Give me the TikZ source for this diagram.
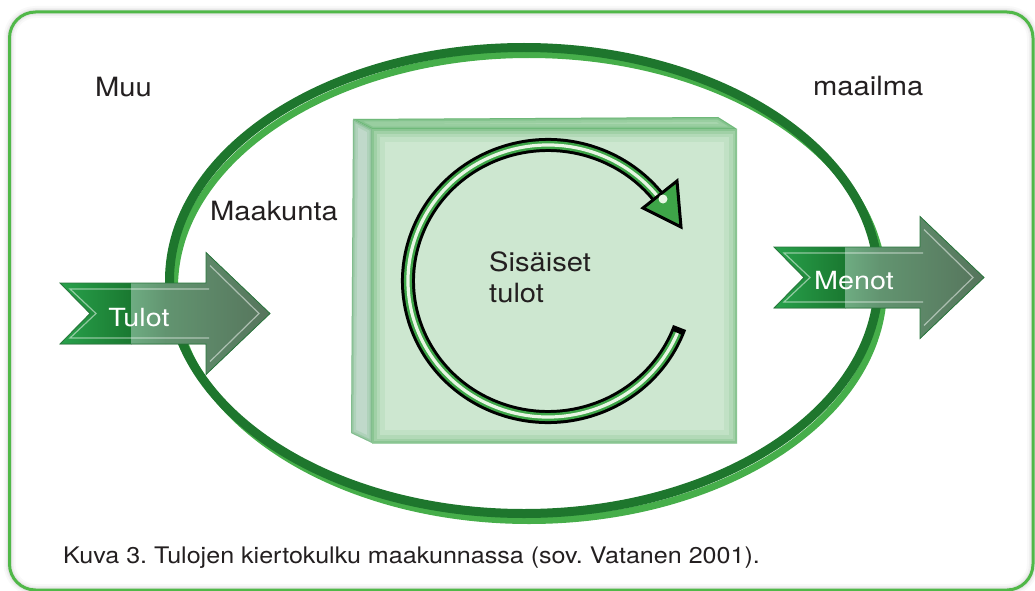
\documentclass[tikz,border=0pt]{standalone}
\usepackage{fontspec}
\setmainfont{TeX Gyre Heros}[FakeStretch=1.1]
\newfontfamily\arrowfont{TeX Gyre Heros}[FakeStretch=1.15]
\usetikzlibrary{calc}

\definecolor{framegreen}{RGB}{80,184,72}
\definecolor{ringdark}{RGB}{30,118,45}
\definecolor{ringlight}{RGB}{70,174,74}
\definecolor{facegreen}{RGB}{205,231,208}
\definecolor{topgreen}{RGB}{170,215,175}
\definecolor{sidegreen}{RGB}{192,217,202}
\definecolor{edgegreen}{RGB}{60,160,75}
\definecolor{textgray}{RGB}{35,31,32}
\definecolor{cyclegreen}{RGB}{62,165,72}
\definecolor{cyclelight}{RGB}{232,246,228}
\definecolor{glossA}{RGB}{40,162,76}
\definecolor{glossB}{RGB}{26,120,48}
\definecolor{glossC}{RGB}{110,172,130}
\definecolor{glossD}{RGB}{98,148,112}
\definecolor{glossE}{RGB}{86,116,92}
\definecolor{arrowedge}{RGB}{40,120,60}

\tikzset{
  lbl/.style={inner sep=0pt, text=textgray, anchor=base west,
              font=\fontsize{26.5}{30}\selectfont},
  capt/.style={inner sep=0pt, text=textgray, anchor=base west,
               font=\frenchspacing\fontsize{22.8}{26}\selectfont},
  arrowlbl/.style={inner sep=0pt, text=white,
                   font=\arrowfont\fontsize{25}{30}\selectfont},
  flowedge/.style={draw=arrowedge, line width=0.8pt},
  flowline/.style={draw=white, opacity=0.5, line width=1.2pt},
  glow/.style={draw=edgegreen, line width=#1},
}

% outline of a notched flow arrow, tail on its centre line at the origin
\newcommand\flowshape{(0,-30.5) -- (146,-30.5) -- (146,-61) -- (210,0)
  -- (146,61) -- (146,30.5) -- (0,30.5) -- (30,0) -- cycle}

% glossy notched flow arrow placed at (#1,#2)
\newcommand\flowarrow[2]{%
  \begin{scope}[shift={(#1,#2)}]
    \begin{scope}
      \clip \flowshape;
      \fill[left color=glossA, right color=glossB] (-1,-62) rectangle (71.5,62);
      \fill[left color=glossC, right color=glossD] (71,-62) rectangle (106,62);
      \fill[left color=glossD, right color=glossE] (105.5,-62) rectangle (211,62);
    \end{scope}
    \draw[flowedge] \flowshape;
    \draw[flowline] (149,-24.5) -- (10,-24.5) -- (36,0) -- (10,24.5) -- (149,24.5);
    \draw[flowline] (150,-48) -- (199,0) -- (150,48);
  \end{scope}}

\begin{document}
\begin{tikzpicture}[x=1pt,y=-1pt]
\useasboundingbox (0,0) rectangle (1035,591);

% outer frame with a soft shadow
\foreach \w/\o in {12/0.025,8/0.035,5/0.05}
  \draw[black, opacity=\o, line width=\w pt, rounded corners=26pt]
    (9.5,12) rectangle (1033,590);
\draw[framegreen, line width=3pt, rounded corners=26pt] (9.5,12) rectangle (1033,590);

% region ring
\draw[ringlight, line width=7pt] (529,287.5) ellipse [x radius=354.5, y radius=233];
\draw[ringdark, line width=9pt] (524,280.5) ellipse [x radius=354.5, y radius=233];

% the block: left side, top and front faces
\path[fill=sidegreen] (353,119) -- (372,129) -- (372,443) -- (351,433) -- cycle;
\begin{scope}
  \clip (353,119) -- (372,129) -- (372,443) -- (351,433) -- cycle;
  \foreach \w/\o in {10/0.12,5/0.18,2/0.25}
    \draw[glow=\w pt, opacity=\o] (353,119) -- (372,129) -- (372,443) -- (351,433) -- cycle;
\end{scope}
\path[fill=topgreen] (353,119) -- (718,117) -- (737,129) -- (372,129) -- cycle;
\begin{scope}
  \clip (353,119) -- (718,117) -- (737,129) -- (372,129) -- cycle;
  \foreach \w/\o in {10/0.15,5/0.2,2/0.3}
    \draw[glow=\w pt, opacity=\o] (353,119) -- (718,117) -- (737,129) -- (372,129) -- cycle;
\end{scope}
\path[fill=facegreen] (372,129) rectangle (737,443);
\begin{scope}
  \clip (372,129) rectangle (737,443);
  \foreach \w/\o in {26/0.08,16/0.11,9/0.15,4/0.22}
    \draw[glow=\w pt, opacity=\o] (372,129) rectangle (737,443);
\end{scope}

% circular arrow inside the block
\coordinate (cyc) at (548,281);
\draw[black, line width=14pt]
  ([shift={(20:140 and 136)}]cyc) arc[start angle=20, end angle=322, x radius=140, y radius=136];
\draw[cyclegreen, line width=8pt]
  ([shift={(22.5:140 and 136)}]cyc) arc[start angle=22.5, end angle=323.7, x radius=140, y radius=136];
\draw[cyclelight, line width=3.2pt]
  ([shift={(22.5:140 and 136)}]cyc) arc[start angle=22.5, end angle=323.7, x radius=140, y radius=136];
\draw[black, fill=cyclegreen, line width=3pt, line join=miter]
  (643,208) -- (677,181) -- (681,227) -- cycle;
\fill[cyclelight] (663,199) circle (4.5);

% texts
\node[lbl] (muu) at (95,97) {Muu};
\node[lbl] (maailma) at (813,96) {maailma};
\node[lbl] (maakunta) at (210,220) {Maakunta};
\node[lbl] (sis1) at (489,271) {Sisäiset};
\node[lbl] (sis2) at (489,302) {tulot};
\node[capt] (caption) at (63,563) {Kuva 3. Tulojen kiertokulku maakunnassa (sov. Vatanen 2001).};

% flow arrows in and out
\flowarrow{60}{313.5}
\node[arrowlbl] (tulot) at (139,318) {Tulot};
\flowarrow{774}{277.5}
\node[arrowlbl] (menot) at (854,281) {Menot};
\end{tikzpicture}
\end{document}
